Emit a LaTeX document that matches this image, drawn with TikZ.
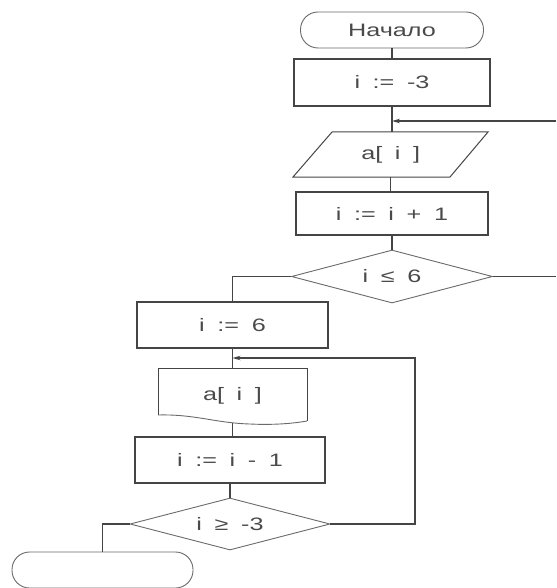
\documentclass[tikz,border=0pt]{standalone}
\usepackage{fontspec}
\setmainfont{Liberation Sans}
\newfontfamily\flfont[FakeStretch=1.4,WordSpace=1.8]{Liberation Sans}
\usetikzlibrary{shapes.geometric,arrows.meta}
\definecolor{ln}{HTML}{454545}
\definecolor{thin}{HTML}{6A6A6A}
\definecolor{tx}{HTML}{4A4A4A}
\begin{document}
\begin{tikzpicture}[x=1pt,y=-1pt,
  every node/.style={font=\flfont\fontsize{18}{20}\selectfont, text=tx},
  proc/.style={draw=ln, line width=1.1pt, rectangle, inner sep=0pt},
  term/.style={draw=thin, line width=0.9pt, rectangle, rounded corners=17.5pt, inner sep=0pt},
  dec/.style={draw=thin, line width=0.9pt, diamond, shape aspect=4, inner sep=0pt},
  plain/.style={inner sep=0pt},
  shapeline/.style={draw=ln, line width=1pt},
  conn/.style={draw=ln, line width=1.1pt},
  arr/.style={conn, -{Stealth[length=8pt,width=4.5pt]}}]
\useasboundingbox (0,0) rectangle (556,588);

\node[term, minimum width=183pt, minimum height=36pt] (start) at (392,30) {Начало};
\node[proc, minimum width=196pt, minimum height=47pt] (b1) at (392,82.5) {i := -3};
\node[plain, minimum width=157pt, minimum height=45pt] (io) at (390.75,154.5) {a[ i ]};
\draw[shapeline] (332,132) -- (488,132) -- (450,177) -- (293,177) -- cycle;
\node[proc, minimum width=192pt, minimum height=43pt] (b2) at (392,213.5) {i := i + 1};
\node[dec, minimum width=201pt, minimum height=53pt] (d1) at (392,276.5) {i ≤ 6};
\node[proc, minimum width=191pt, minimum height=46pt] (b3) at (232.5,325) {i := 6};
\node[plain, minimum width=149pt, minimum height=55pt] (doc) at (232.5,395.5) {a[ i ]};
\draw[shapeline] (158,415) -- (158,368) -- (307,368) -- (307,421);
\draw[draw=thin, line width=0.9pt] (307,421)
  .. controls (290,424) and (270,425) .. (250,424)
  .. controls (215,423) and (195,414) .. (158,415);
\node[proc, minimum width=190pt, minimum height=46pt] (b4) at (230,460) {i := i - 1};
\node[dec, minimum width=200pt, minimum height=52pt] (d2) at (230,524) {i ≥ -3};
\node[term, minimum width=181pt, minimum height=36pt] (fin) at (102.5,570) {};

\coordinate (r1) at (556,121);
\coordinate (r2) at (556,276.5);
\coordinate (l1) at (415,358);

\draw[conn] (start.south) -- (b1.north);
\draw[conn] (b1.south) -- (b1.south |- io.north);
\draw[arr] (r1) -- (r1 -| b1.south);
\draw[conn] (io.south) -- (io.south |- b2.north);
\draw[conn] (b2.south) -- (d1.north);
\draw[conn] (d1.east) -- (r2);
\draw[conn] (d1.west) -| (b3.north);
\draw[conn] (b3.south) -- (b3.south |- doc.north);
\draw[arr] (d2.east) -| (l1) -- (l1 -| b3.south);
\draw[conn] (doc.south) -- (doc.south |- b4.north);
\draw[conn] (b4.south) -- (b4.south |- d2.north);
\draw[conn] (d2.west) -| (fin.north);
\end{tikzpicture}
\end{document}
